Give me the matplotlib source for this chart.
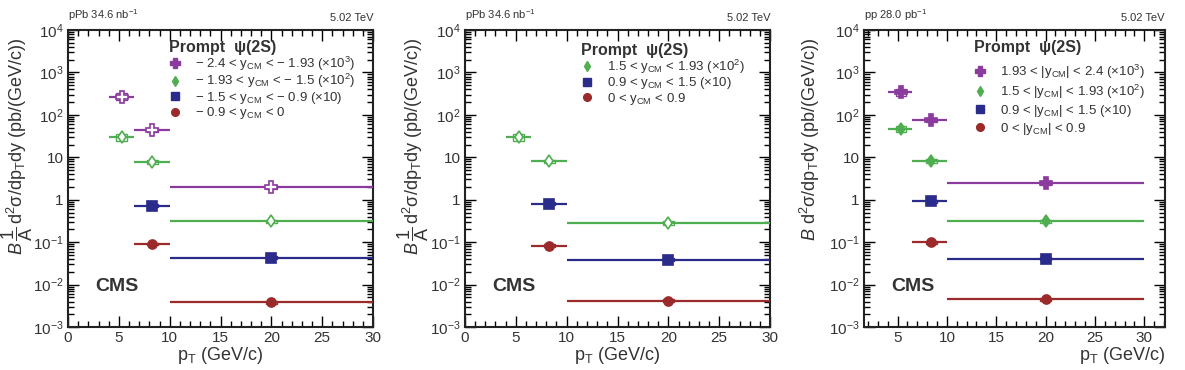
import numpy as np
import matplotlib
matplotlib.use("Agg")
import matplotlib.pyplot as plt
from matplotlib.lines import Line2D
from matplotlib.ticker import LogLocator, FixedLocator, MultipleLocator, NullFormatter

plt.rcParams['font.family'] = ['Liberation Sans', 'DejaVu Sans']
plt.rcParams['mathtext.fontset'] = 'custom'
plt.rcParams['mathtext.rm'] = 'Liberation Sans'
plt.rcParams['mathtext.it'] = 'Liberation Sans:italic'
plt.rcParams['mathtext.bf'] = 'Liberation Sans:bold'

# colours
c_purple = '#8b3a9e'
c_green = '#4fae4f'
c_blue = '#2b2b8c'
c_red = '#9b2b2b'
c_text = '#333333'

# pT bins (low, high) and centres
bins3 = [(4.0, 6.5), (6.5, 10.0), (10.0, 30.0)]
bins2 = [(6.5, 10.0), (10.0, 30.0)]
pt3 = [5.3, 8.3, 20.0]
pt2 = [8.3, 20.0]
pt3_pp = [5.35, 8.4, 20.0]
pt2_pp = [8.4, 20.0]

# pPb backward (scaled)
pb_back_purple = [270, 45, 2.0]
pb_back_green = [30, 7.8, 0.31]
pb_back_blue = [0.72, 0.043]
pb_back_red = [0.091, 0.0038]

# pPb forward (scaled)
pb_fwd_green = [30, 8.0, 0.29]
pb_fwd_blue = [0.80, 0.039]
pb_fwd_red = [0.083, 0.0042]

# pp (scaled)
pp_purple = [340, 74, 2.5]
pp_green = [47, 8.3, 0.31]
pp_blue = [0.91, 0.041]
pp_red = [0.10, 0.0045]

# relative uncertainties (stat, syst)
rel_stat3 = [0.15, 0.08, 0.08]
rel_stat2 = [0.05, 0.05]
rel_syst3 = [0.18, 0.10, 0.10]
rel_syst2 = [0.08, 0.08]

lab_back = [r'$-$ 2.4 < y$_{\rm CM}$ < $-$ 1.93 ($\times$10$^{3}$)',
            r'$-$ 1.93 < y$_{\rm CM}$ < $-$ 1.5 ($\times$10$^{2}$)',
            r'$-$ 1.5 < y$_{\rm CM}$ < $-$ 0.9 ($\times$10)',
            r'$-$ 0.9 < y$_{\rm CM}$ < 0']
lab_fwd = [r'1.5 < y$_{\rm CM}$ < 1.93 ($\times$10$^{2}$)',
           r'0.9 < y$_{\rm CM}$ < 1.5 ($\times$10)',
           r'0 < y$_{\rm CM}$ < 0.9']
lab_pp = [r'1.93 < |y$_{\rm CM}$| < 2.4 ($\times$10$^{3}$)',
          r'1.5 < |y$_{\rm CM}$| < 1.93 ($\times$10$^{2}$)',
          r'0.9 < |y$_{\rm CM}$| < 1.5 ($\times$10)',
          r'0 < |y$_{\rm CM}$| < 0.9']

ytick_vals = [1e-3, 1e-2, 1e-1, 1, 10, 1e2, 1e3, 1e4]
ytick_labs = [r'10$^{-3}$', r'10$^{-2}$', r'10$^{-1}$', '1', '10',
              r'10$^{2}$', r'10$^{3}$', r'10$^{4}$']

style = {
    'purple': dict(color=c_purple, marker='P', ms=8),
    'green': dict(color=c_green, marker='d', ms=6),
    'blue': dict(color=c_blue, marker='s', ms=7),
    'red': dict(color=c_red, marker='o', ms=6.5),
}


def draw_series(ax, pts, vals, bins, st, rel_stat, rel_syst, open_marker):
    x = np.array(pts)
    y = np.array(vals)
    lo = np.array([b[0] for b in bins])
    hi = np.array([b[1] for b in bins])
    xerr = [x - lo, hi - x]
    yerr = y * np.array(rel_stat)
    syst = y * np.array(rel_syst)
    ax.bar(x, 2 * syst, bottom=y - syst, width=1.1, fill=False,
           edgecolor=st['color'], linewidth=1.0, zorder=3)
    mfc = 'white' if open_marker else st['color']
    ax.errorbar(x, y, xerr=xerr, yerr=yerr, fmt=st['marker'], color=st['color'],
                ms=st['ms'], mfc=mfc, mec=st['color'], mew=1.2, elinewidth=1.6,
                capsize=0, zorder=4)


def setup_axes(ax, xlim, xticks):
    ax.set_yscale('log')
    ax.set_ylim(1e-3, 1e4)
    ax.set_xlim(*xlim)
    ax.yaxis.set_major_locator(FixedLocator(ytick_vals))
    ax.set_yticklabels(ytick_labs)
    ax.yaxis.set_minor_locator(LogLocator(base=10, subs=np.arange(2, 10), numticks=20))
    ax.yaxis.set_minor_formatter(NullFormatter())
    ax.set_xticks(xticks)
    ax.set_xticklabels([str(t) for t in xticks])
    ax.xaxis.set_minor_locator(MultipleLocator(1))
    ax.tick_params(which='both', direction='in', top=True, right=True,
                   labelsize=11, width=1.0, pad=3, labelcolor=c_text)
    ax.tick_params(which='major', length=8)
    ax.tick_params(which='minor', length=4)
    for s in ax.spines.values():
        s.set_linewidth(1.5)
        s.set_color('#222222')


def add_legend(ax, handles, labels, x, y, spacing):
    leg = ax.legend(handles, labels, loc='upper left', bbox_to_anchor=(x, y),
                    frameon=False, fontsize=9.5, title='Prompt  ψ(2S)',
                    title_fontproperties={'weight': 'bold', 'size': 11.5},
                    alignment='left', handlelength=1.0, handletextpad=1.0,
                    labelspacing=spacing, borderpad=0, borderaxespad=0)
    for t in leg.get_texts():
        t.set_color(c_text)
    leg.get_title().set_color(c_text)
    return leg


fig = plt.figure(figsize=(11.85, 3.7), dpi=100)
ax1 = fig.add_axes([0.0574, 0.116, 0.2574, 0.803])
ax2 = fig.add_axes([0.3924, 0.116, 0.2574, 0.803])
ax3 = fig.add_axes([0.7291, 0.116, 0.254, 0.803])

ylab_pa = r'$B\,\dfrac{1}{{\rm A}}\,$d$^{2}$σ/dp$_{\rm T}$dy (pb/(GeV/c))'
ylab_pp = r'$B$ d$^{2}$σ/dp$_{\rm T}$dy (pb/(GeV/c))'

# panel 1 : pPb backward
setup_axes(ax1, (0, 30), [0, 5, 10, 15, 20, 25, 30])
draw_series(ax1, pt3, pb_back_purple, bins3, style['purple'], rel_stat3, rel_syst3, True)
draw_series(ax1, pt3, pb_back_green, bins3, style['green'], rel_stat3, rel_syst3, True)
draw_series(ax1, pt2, pb_back_blue, bins2, style['blue'], rel_stat2, rel_syst2, False)
draw_series(ax1, pt2, pb_back_red, bins2, style['red'], rel_stat2, rel_syst2, False)

# panel 2 : pPb forward
setup_axes(ax2, (0, 30), [0, 5, 10, 15, 20, 25, 30])
draw_series(ax2, pt3, pb_fwd_green, bins3, style['green'], rel_stat3, rel_syst3, True)
draw_series(ax2, pt2, pb_fwd_blue, bins2, style['blue'], rel_stat2, rel_syst2, False)
draw_series(ax2, pt2, pb_fwd_red, bins2, style['red'], rel_stat2, rel_syst2, False)

# panel 3 : pp
setup_axes(ax3, (1.6, 32.1), [5, 10, 15, 20, 25, 30])
draw_series(ax3, pt3_pp, pp_purple, bins3, style['purple'], rel_stat3, rel_syst3, False)
draw_series(ax3, pt3_pp, pp_green, bins3, style['green'], rel_stat3, rel_syst3, False)
draw_series(ax3, pt2_pp, pp_blue, bins2, style['blue'], rel_stat2, rel_syst2, False)
draw_series(ax3, pt2_pp, pp_red, bins2, style['red'], rel_stat2, rel_syst2, False)


def handle(name):
    st = style[name]
    return Line2D([], [], linestyle='none', marker=st['marker'], color=st['color'],
                  ms=st['ms'] * 0.85)


add_legend(ax1, [handle('purple'), handle('green'), handle('blue'), handle('red')],
           lab_back, 0.33, 0.965, -0.05)
add_legend(ax2, [handle('green'), handle('blue'), handle('red')],
           lab_fwd, 0.38, 0.955, -0.05)
leg3 = add_legend(ax3, [handle('purple'), handle('green'), handle('blue'), handle('red')],
                  lab_pp, 0.365, 0.965, 0.15)
leg3._legend_box.sep = 5

for ax, top_left, ylab, lx in [(ax1, r'pPb 34.6 nb$^{-1}$', ylab_pa, -0.108),
                               (ax2, r'pPb 34.6 nb$^{-1}$', ylab_pa, -0.112),
                               (ax3, r'pp 28.0 pb$^{-1}$', ylab_pp, -0.14)]:
    ax.text(0.0, 1.025, top_left, transform=ax.transAxes, fontsize=8, ha='left',
            va='bottom', color=c_text)
    ax.text(1.0, 1.025, '5.02 TeV', transform=ax.transAxes, fontsize=8, ha='right',
            va='bottom', color=c_text)
    ax.text(0.09, 0.135, 'CMS', transform=ax.transAxes, fontsize=14, weight='bold',
            ha='left', va='center', color=c_text)
    ax.set_ylabel(ylab, fontsize=13, color=c_text, loc='top')
    ax.yaxis.set_label_coords(lx, 0.975)

ax1.set_xlabel(r'p$_{\rm T}$ (GeV/c)', fontsize=13, labelpad=0, color=c_text)
ax2.set_xlabel(r'p$_{\rm T}$ (GeV/c)', fontsize=13, labelpad=0, color=c_text)
ax3.set_xlabel(r'p$_{\rm T}$ (GeV/c)', fontsize=13, labelpad=0, loc='right', color=c_text)

fig.savefig('out.png', dpi=100)
